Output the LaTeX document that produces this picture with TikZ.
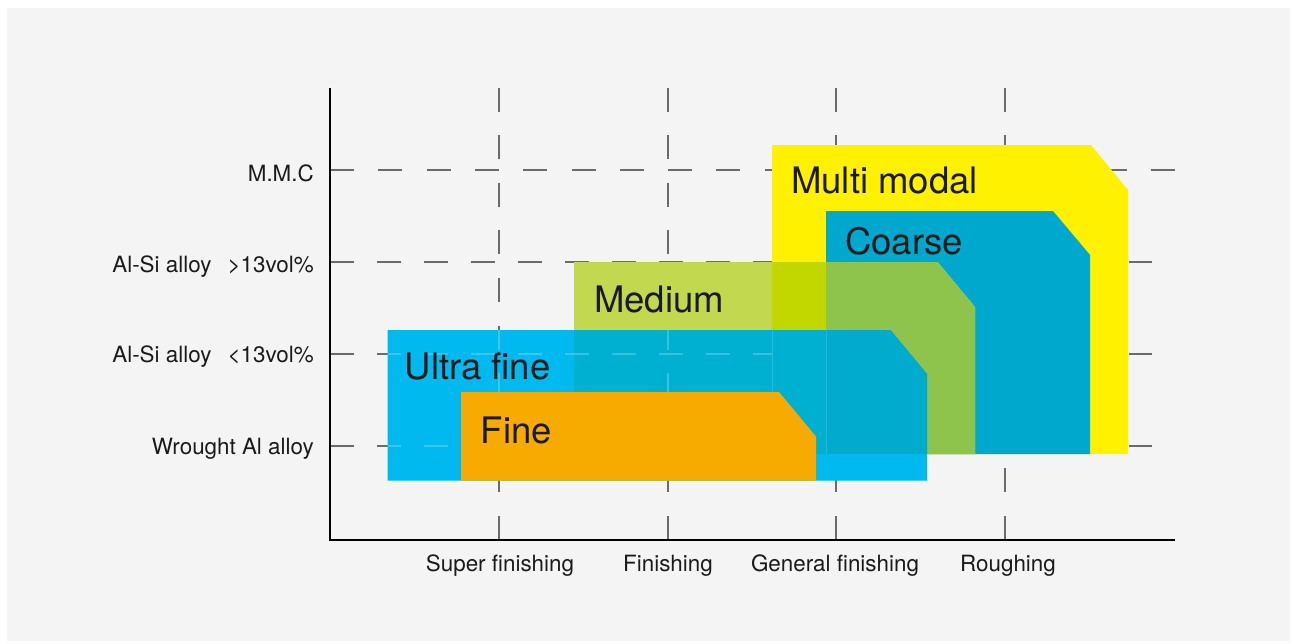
\documentclass[tikz,border=0pt]{standalone}
\usepackage{fontspec}
\setmainfont{TeX Gyre Heros}
\definecolor{pagebg}{HTML}{F4F4F4}
\definecolor{gridc}{HTML}{6B6B6B}
\definecolor{yellowC}{HTML}{FFF100}
\definecolor{coarseC}{HTML}{00A8CE}
\definecolor{mediumC}{HTML}{C1D84F}
\definecolor{medYellow}{HTML}{C2D700}
\definecolor{medCoarse}{HTML}{8FC44C}
\definecolor{ultraC}{HTML}{00B9EE}
\definecolor{ultraOver}{HTML}{00B0D0}
\definecolor{ultraOverCoarse}{HTML}{00ABCE}
\definecolor{fineC}{HTML}{F7AB00}
\definecolor{textc}{HTML}{1A1A1A}
\newcommand\mygridlines[1]{%
  \draw[#1, dash pattern=on 24pt off 24.3pt] (330,170) -- (1175,170);
  \draw[#1, dash pattern=on 24pt off 23pt] (330,262) -- (1152,262);
  \draw[#1, dash pattern=on 24pt off 23pt] (330,354) -- (1152,354);
  \draw[#1, dash pattern=on 24pt off 23pt] (330,446) -- (1152,446);
  \foreach \gx in {499,668,836,1005}{
    \draw[#1, dash pattern=on 24pt off 23.6pt] (\gx,87.5) -- (\gx,540);
  }%
}
\begin{document}
\begin{tikzpicture}[x=1pt,y=-1pt,
  gridline/.style={gridc, line width=1.3pt},
  faintline/.style={white, opacity=0.22, line width=1.3pt},
  axisline/.style={black, line width=1.3pt},
  ylab/.style={anchor=base east, inner sep=0pt, text=textc, font=\fontsize{22.4}{26}\selectfont},
  xlab/.style={anchor=base, inner sep=0pt, text=textc, font=\fontsize{22.4}{26}\selectfont},
  biglab/.style={anchor=base west, inner sep=0pt, text=textc, font=\fontsize{36.5}{40}\selectfont}]
\useasboundingbox (0,0) rectangle (1292,643);
\fill[white] (0,0) rectangle (1292,643);
\fill[pagebg] (7,8) rectangle (1290,641);
% grid
\mygridlines{gridline}
% Multi modal
\fill[yellowC] (772,145) -- (1091,145) -- (1128,190) -- (1128,454) -- (772,454) -- cycle;
% Coarse
\fill[coarseC] (826,211) -- (1053,211) -- (1090,255) -- (1090,454) -- (826,454) -- cycle;
% Medium
\fill[mediumC] (574,262) -- (937.5,262) -- (975,307) -- (975,454) -- (574,454) -- cycle;
\begin{scope}
  \clip (574,262) -- (937.5,262) -- (975,307) -- (975,454) -- (574,454) -- cycle;
  \fill[medYellow] (772,250) rectangle (826,460);
  \fill[medCoarse] (826,250) rectangle (1100,460);
\end{scope}
% Ultra fine
\fill[ultraC] (387.5,330) -- (890.5,330) -- (927,374) -- (927,480.5) -- (387.5,480.5) -- cycle;
\begin{scope}
  \clip (387.5,330) -- (890.5,330) -- (927,374) -- (927,480.5) -- (387.5,480.5) -- cycle;
  \fill[ultraOver] (574,320) rectangle (826,454);
  \fill[ultraOverCoarse] (826,320) rectangle (940,454);
  \draw[faintline, opacity=0.15, line width=1pt] (772,330) -- (772,454);
  \draw[faintline, opacity=0.15, line width=1pt] (826,330) -- (826,454);
  \begin{scope}
    \clip (380,320) rectangle (772,490);
    \mygridlines{faintline}
  \end{scope}
\end{scope}
% Fine
\fill[fineC] (461,392) -- (779,392) -- (816,436.5) -- (816,480.5) -- (461,480.5) -- cycle;
% axes
\draw[axisline] (330,87.5) -- (330,540) -- (1175,540);
% y labels
\node[ylab] (mmc) at (314,181.7) {M.M.C};
\node[ylab] (sihigh) at (314,272.7) {Al-Si alloy\hspace{0.72em}>13vol\%};
\node[ylab] (silow) at (314,362.5) {Al-Si alloy\hspace{0.72em}<13vol\%};
\node[ylab] (wrought) at (314,454) {Wrought Al alloy};
% x labels
\node[xlab] (superfin) at (500,571.7) {Super finishing};
\node[xlab] (fin) at (668,571.7) {Finishing};
\node[xlab] (genfin) at (835,571.7) {General finishing};
\node[xlab] (rough) at (1008,571.7) {Roughing};
% region labels
\node[biglab] (multimodal) at (791,193.3) {Multi modal};
\node[biglab] (coarse) at (845,254) {Coarse};
\node[biglab] (medium) at (594,312.7) {Medium};
\node[biglab] (ultrafine) at (404.5,379.3) {Ultra fine};
\node[biglab] (fine) at (480.5,443.3) {Fine};
\end{tikzpicture}
\end{document}
